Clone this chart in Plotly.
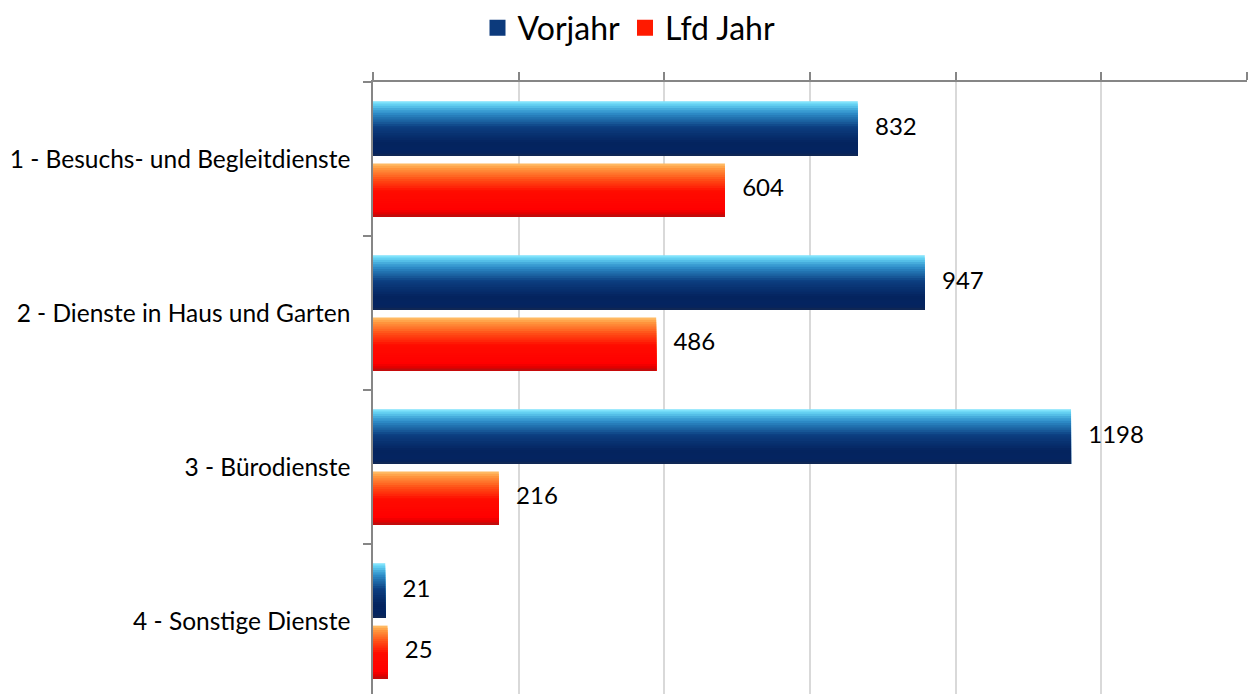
import plotly.graph_objects as go

# ---- data ----
categories = [
    "1 - Besuchs- und Begleitdienste",
    "2 - Dienste in Haus und Garten",
    "3 - Bürodienste",
    "4 - Sonstige Dienste",
]
vorjahr = [832, 947, 1198, 21]
lfd_jahr = [604, 486, 216, 25]
series_names = ["Vorjahr", "Lfd Jahr"]
x_tick_values = [0, 250, 500, 750, 1000, 1250, 1500]

# ---- styling ----
FONT = "Lato"
AXIS_GRAY = "#868686"
GRID_GRAY = "#d9d9d9"

# gradient stops (fraction from top edge of the bar, colour)
blue_stops = [(0.0, (140, 235, 255)), (0.07, (95, 205, 240)), (0.22, (45, 140, 200)),
              (0.48, (12, 62, 128)), (0.75, (4, 36, 95)), (0.93, (4, 36, 96)), (1.0, (20, 40, 80))]
red_stops = [(0.0, (255, 195, 110)), (0.08, (255, 155, 65)), (0.28, (255, 85, 25)),
             (0.52, (255, 12, 0)), (0.86, (255, 0, 0)), (0.94, (225, 0, 0)), (1.0, (170, 20, 20))]

bar_slots = {"Vorjahr": (-0.375, -0.02), "Lfd Jahr": (0.03, 0.375)}
legend_colors = {"Vorjahr": "#0c3a7c", "Lfd Jahr": "#ff1a00"}


def interp(stops, f):
    for (f0, c0), (f1, c1) in zip(stops[:-1], stops[1:]):
        if f0 <= f <= f1:
            t = 0 if f1 == f0 else (f - f0) / (f1 - f0)
            c = [round(a + (b - a) * t) for a, b in zip(c0, c1)]
            return f"rgb({c[0]},{c[1]},{c[2]})"
    c = stops[-1][1]
    return f"rgb({c[0]},{c[1]},{c[2]})"


ypos = list(range(len(categories)))
fig = go.Figure()

N_STRIPS = 24
for name, values, stops in [("Vorjahr", vorjahr, blue_stops), ("Lfd Jahr", lfd_jahr, red_stops)]:
    top, bottom = bar_slots[name]
    # legend entry (square marker)
    fig.add_trace(go.Scatter(
        name=name, x=[None], y=[None], mode="markers",
        marker=dict(symbol="square", size=18, color=legend_colors[name]),
        legendgroup=name, showlegend=True,
    ))
    # gradient strips
    for k in range(N_STRIPS):
        f = k / N_STRIPS
        t_k = top + (bottom - top) * f
        fig.add_trace(go.Bar(
            name=name, x=values, y=ypos, orientation="h", base=0,
            offset=t_k, width=bottom - t_k,
            marker=dict(color=interp(stops, f + 0.5 / N_STRIPS), line=dict(width=0)),
            showlegend=False, hoverinfo="x+name" if k == N_STRIPS - 1 else "skip",
            legendgroup=name,
        ))
    # value labels
    center = (top + bottom) / 2
    fig.add_trace(go.Scatter(
        x=values, y=[p + center for p in ypos], mode="markers+text",
        text=[str(v) for v in values], textposition="middle right",
        marker=dict(size=26, opacity=0), textfont=dict(family=FONT, size=24, color="#000000"),
        showlegend=False, hoverinfo="skip", cliponaxis=False, legendgroup=name,
    ))

n = len(categories)
fig.update_layout(
    width=1258, height=694,
    margin=dict(l=373, r=11, t=82, b=0, pad=0),
    barmode="overlay",
    paper_bgcolor="white", plot_bgcolor="white",
    font=dict(family=FONT, size=24, color="#000000"),
    legend=dict(
        orientation="h", xref="container", yref="container",
        x=0.5, xanchor="center", y=1 - 28 / 694, yanchor="middle",
        font=dict(family=FONT, size=32, color="#000000"),
        traceorder="normal", itemsizing="trace", itemwidth=30,
    ),
    xaxis=dict(
        side="top", range=[x_tick_values[0], x_tick_values[-1]],
        tickvals=x_tick_values, showticklabels=False,
        ticks="outside", ticklen=8, tickcolor=AXIS_GRAY, tickwidth=1.5,
        showline=True, linecolor=AXIS_GRAY, linewidth=1.5,
        showgrid=True, gridcolor=GRID_GRAY, gridwidth=1.5, zeroline=False,
    ),
    yaxis=dict(
        range=[n - 0.5 - 4 / 154, -0.5],
        tickvals=ypos, ticktext=categories, ticks="",
        ticklabelstandoff=16,
        tickfont=dict(family=FONT, size=24.5, color="#000000"),
        showline=True, linecolor=AXIS_GRAY, linewidth=1.5,
        showgrid=False, zeroline=False,
        minor=dict(tick0=-0.5, dtick=1, ticks="outside", ticklen=8,
                   tickcolor=AXIS_GRAY, tickwidth=1.5),
    ),
)

fig.write_html("out.html", config={"displayModeBar": False},
               post_script="document.body.style.margin='0px';")
